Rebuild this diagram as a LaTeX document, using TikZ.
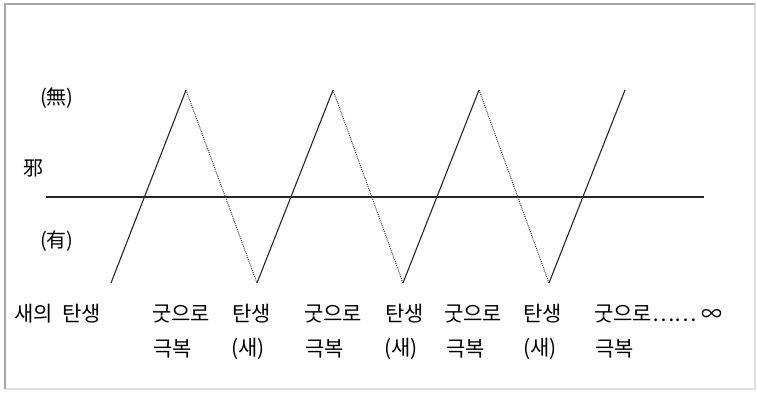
\documentclass[tikz,border=0pt]{standalone}
\usepackage{fontspec}
\setmainfont{Noto Sans CJK KR}
\usetikzlibrary{positioning}

\begin{document}
\begin{tikzpicture}[x=1pt, y=-1pt,
    rise/.style={line width=1.1pt, black!85},
    fall/.style={line width=1pt, densely dotted, black!75},
    lbl/.style={font=\fontsize{21}{24}\selectfont, inner sep=0pt, anchor=west},
    han/.style={font=\fontsize{20}{23}\selectfont, inner sep=0pt, anchor=west}]
  \useasboundingbox (0,0) rectangle (757,392);
  % frame
  \draw[gray!25, line width=1.2pt] (755,4) -- (755,389) -- (5,389);
  \draw[gray!70, line width=1.6pt] (5,389) -- (5,4) -- (755,4);

  % middle axis
  \coordinate (axL) at (46,197);
  \coordinate (axR) at (704,197);
  \draw[line width=1.1pt, black!85] (axL) -- (axR);

  % troughs and peaks
  \coordinate (t0) at (111,283);
  \coordinate (p1) at (186,90);
  \coordinate (t1) at (257,283);
  \coordinate (p2) at (333,90);
  \coordinate (t2) at (403,283);
  \coordinate (p3) at (479,90);
  \coordinate (t3) at (549,283);
  \coordinate (p4) at (625,90);

  % zigzag
  \draw[rise] (t0) -- (p1);
  \draw[fall] (p1) -- (t1);
  \draw[rise] (t1) -- (p2);
  \draw[fall] (p2) -- (t2);
  \draw[rise] (t2) -- (p3);
  \draw[fall] (p3) -- (t3);
  \draw[rise] (t3) -- (p4);

  % left labels
  \node[han] (mu) at (40,98) {(無)};
  \node[han] (sa) at (23,168) {邪};
  \node[han] (yu) at (40,241) {(有)};

  % bottom labels
  \node[lbl] (b0) at (14,314) {새의\hspace{0.45em}탄생};
  \node[lbl] (b1) at (152,314) {굿으로};
  \node[lbl] (c1) at (153,349) {극복};
  \node[lbl] (b2) at (232,314) {탄생};
  \node[lbl] (c2) at (231,349) {(새)};
  \node[lbl] (b3) at (304,314) {굿으로};
  \node[lbl] (c3) at (305,349) {극복};
  \node[lbl] (b4) at (385,314) {탄생};
  \node[lbl] (c4) at (384,349) {(새)};
  \node[lbl] (b5) at (444,314) {굿으로};
  \node[lbl] (c5) at (446,349) {극복};
  \node[lbl] (b6) at (523,314) {탄생};
  \node[lbl] (c6) at (523,349) {(새)};
  \node[lbl] (b7) at (594,314) {굿으로…… ∞};
  \node[lbl] (c7) at (595,349) {극복};
\end{tikzpicture}
\end{document}
